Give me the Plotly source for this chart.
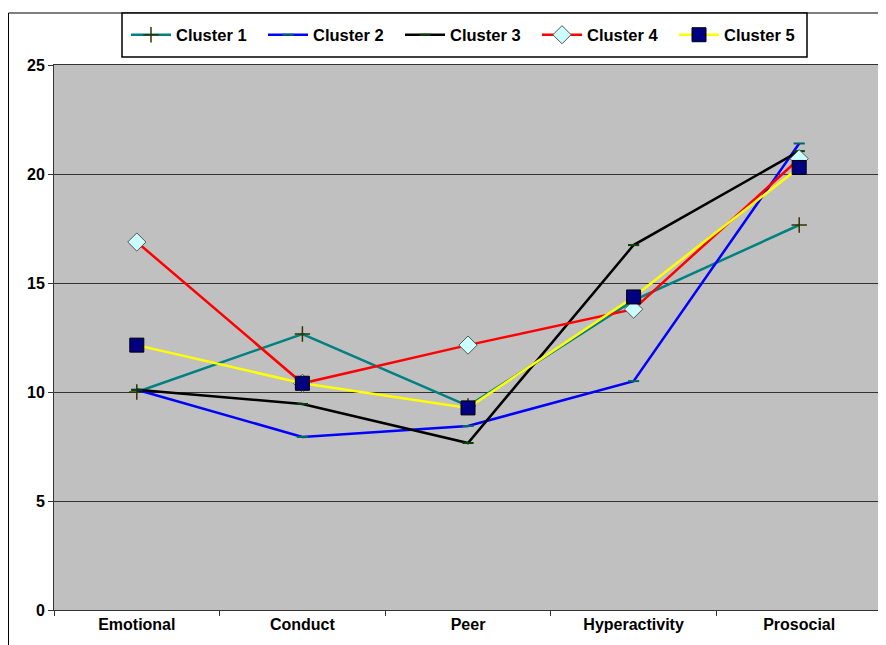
import plotly.graph_objects as go

categories = ["Emotional", "Conduct", "Peer", "Hyperactivity", "Prosocial"]
cluster1 = [10.0, 12.66, 9.36, 14.2, 17.66]
cluster2 = [10.1, 7.94, 8.44, 10.5, 21.4]
cluster3 = [10.1, 9.45, 7.66, 16.74, 21.05]
cluster4 = [16.88, 10.4, 12.15, 13.8, 20.7]
cluster5 = [12.15, 10.4, 9.27, 14.36, 20.3]
y_ticks = [0, 5, 10, 15, 20, 25]

series = [
    ("Cluster 1", cluster1, "#008080", 2.5,
     dict(symbol="cross-thin", size=11, color="#333300", line=dict(color="#333300", width=1.5))),
    ("Cluster 2", cluster2, "#0000FF", 2.5,
     dict(symbol="line-ew", size=8, color="#006666", line=dict(color="#006666", width=2))),
    ("Cluster 3", cluster3, "#000000", 2.5,
     dict(symbol="line-ew", size=8, color="#004000", line=dict(color="#004000", width=2))),
    ("Cluster 4", cluster4, "#FF0000", 2.5,
     dict(symbol="diamond", size=14, color="#CCFFFF", line=dict(color="#555555", width=1))),
    ("Cluster 5", cluster5, "#FFFF00", 2.5,
     dict(symbol="square", size=14, color="#000080", line=dict(color="#000000", width=1))),
]

fig = go.Figure()
for name, vals, color, w, marker in series:
    fig.add_trace(go.Scatter(
        x=categories, y=vals, name=name, mode="lines+markers",
        line=dict(color=color, width=w), marker=marker,
    ))

# the page body has an 8px margin; work in screen pixels and offset
OFF = 8
W, H = 886 - OFF, 645 - OFF
PL, PR, PT, PB = 54, 882, 65, 610  # plot area in screen px
L, T = PL - OFF, PT - OFF
R = (W + OFF) - PR
B = (H + OFF) - PB
pw, ph = PR - PL, PB - PT

def px_x(x):
    return (x - PL) / pw

def px_y(y):
    return (PB - y) / ph

# outer chart frame
fig.add_shape(type="rect", xref="paper", yref="paper",
              x0=px_x(8.5), x1=px_x(900), y0=px_y(660), y1=px_y(13),
              line=dict(color="#000000", width=1), fillcolor="rgba(0,0,0,0)", layer="below")
# legend box
fig.add_shape(type="rect", xref="paper", yref="paper",
              x0=px_x(122), x1=px_x(807), y0=px_y(57), y1=px_y(13),
              line=dict(color="#000000", width=1.5), fillcolor="white", layer="below")

fig.update_layout(
    width=W, height=H,
    margin=dict(l=L, r=R, t=T, b=B, autoexpand=False),
    paper_bgcolor="white",
    plot_bgcolor="#C0C0C0",
    font=dict(family="Liberation Sans, Arial, sans-serif", color="#000000"),
    showlegend=True,
    legend=dict(
        orientation="h",
        x=px_x(126), xanchor="left",
        y=px_y(35), yanchor="middle",
        bgcolor="rgba(0,0,0,0)", borderwidth=0,
        font=dict(size=16.5, family="Liberation Sans, Arial, sans-serif", weight="bold"),
        itemwidth=40,
        entrywidth=82, entrywidthmode="pixels",
    ),
    xaxis=dict(
        type="category", range=[-0.5, 4.5],
        tickson="boundaries", ticks="outside", ticklen=5, tickcolor="#333333",
        showgrid=False, showline=True, linecolor="#333333", linewidth=1, mirror=True,
        tickfont=dict(size=16, weight="bold"),
        fixedrange=True,
    ),
    yaxis=dict(
        range=[0, 25], tickvals=y_ticks, ticks="outside", ticklen=5, tickcolor="#333333",
        showgrid=True, gridcolor="#333333", gridwidth=1,
        showline=True, linecolor="#333333", linewidth=1, mirror=True,
        zeroline=False,
        tickfont=dict(size=16, weight="bold"),
        fixedrange=True,
    ),
)

fig.write_html("out.html")
